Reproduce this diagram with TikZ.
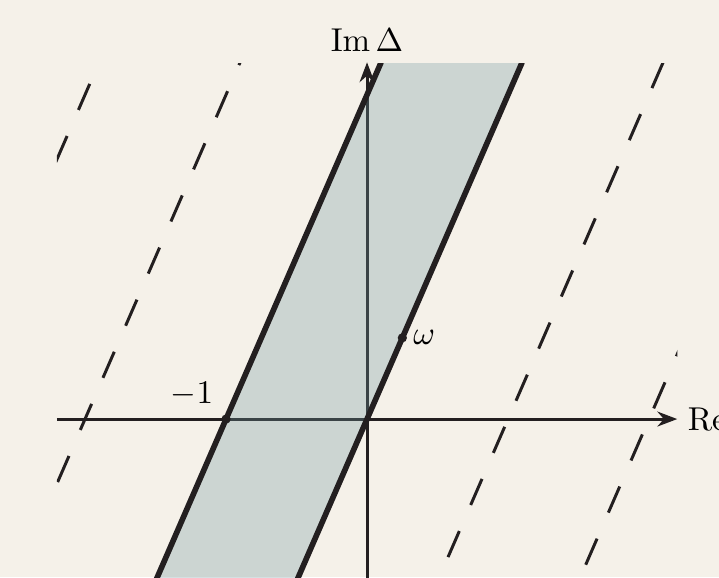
\documentclass[tikz,border=0pt]{standalone}
\usetikzlibrary{arrows.meta}
\definecolor{paper}{HTML}{F5F1E9}
\definecolor{stripfill}{HTML}{7097A0}
\definecolor{ink}{HTML}{231F20}

\begin{document}
\begin{tikzpicture}[x=1.5cm, y=1.5cm,
  axis/.style={draw=ink, line width=0.9pt, -{Stealth[length=6pt, width=4.5pt]}},
  stripedge/.style={draw=ink, line width=1.7pt},
  lattice/.style={draw=ink, line width=0.9pt, dash pattern=on 8.6pt off 8.6pt},
  dot/.style={circle, fill=ink, inner sep=0pt, minimum size=2.8pt}]
  \fill[paper] (-2.603,-1.121) rectangle (2.496,2.972);
  \useasboundingbox (-2.603,-1.121) rectangle (2.496,2.972);

  \coordinate (O) at (0,0);
  \coordinate (w) at (0.2504,0.5759);
  \coordinate (xmin) at (-2.2,0);
  \coordinate (xmax) at (2.2,0);
  \coordinate (ymin) at (0,-1.3);
  \coordinate (ymax) at (0,2.53);

  \begin{scope}
    \clip (-2.2,-1.5) rectangle (2.2,2.52);
    \foreach \k/\s in {-3/-0.025, -2/-0.077, 1/0.130, 2/0.076}
      \draw[lattice] (\k+\s/2.3-1.109/2.3,\s-1.109) -- ++(1.8,4.14);
  \end{scope}

  \draw[axis] (xmin) -- (xmax);
  \draw[axis] (ymin) -- (ymax);

  \begin{scope}
    \clip (-2.6,-1.5) rectangle (2.5,2.52);
    \fill[stripfill, fill opacity=0.3] (-0.652,-1.5) -- (1.1,2.53) -- (0.1,2.53) -- (-1.652,-1.5) -- cycle;
    \draw[stripedge] (-0.652,-1.5) -- (1.1,2.53);
    \draw[stripedge] (-1.652,-1.5) -- (0.1,2.53);
  \end{scope}

  \node[dot] (m1) at (-1,0) {};
  \node[dot] (om) at (w) {};
  \node[anchor=south east, inner sep=2pt] (m1lbl) at (-1.04,0.04) {$-1$};
  \node[anchor=west, inner sep=1.5pt] (omlbl) at (om.east) {$\omega$};
  \node[anchor=south, inner sep=3pt] (imlbl) at (ymax) {$\mathrm{Im}\,\Delta$};
  \node[anchor=west, inner sep=3pt] (relbl) at (xmax) {$\mathrm{Re}\,\Delta$};
\end{tikzpicture}
\end{document}
